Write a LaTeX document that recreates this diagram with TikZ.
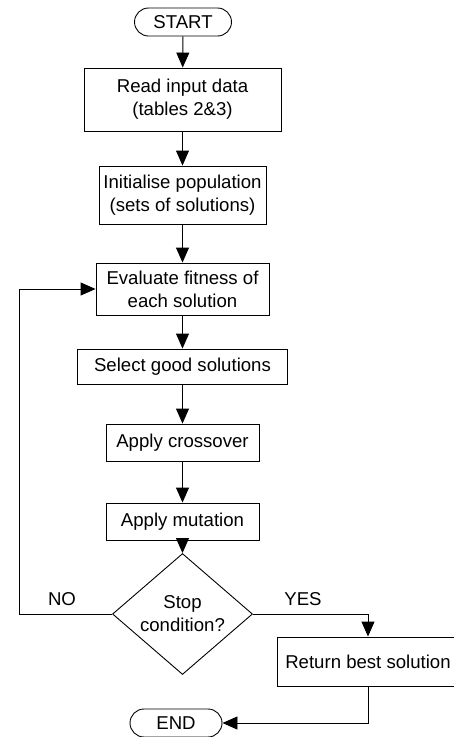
\documentclass[tikz,border=0pt]{standalone}
\usepackage{fontspec}
\setmainfont{Liberation Sans}
\usetikzlibrary{arrows.meta,shapes.geometric,shapes.misc}
\begin{document}
\begin{tikzpicture}[x=1pt,y=-1pt,
  every node/.style={font=\fontsize{18.6pt}{23pt}\selectfont, inner sep=0pt, align=center},
  boxnode/.style={draw, line width=0.9pt, rectangle},
  pill/.style={draw, line width=0.9pt, rounded rectangle, minimum width=97pt, minimum height=28pt},
  dec/.style={draw, line width=0.9pt, diamond, minimum width=140pt, minimum height=88pt},
  flow/.style={line width=0.9pt, -{Triangle[length=15pt,width=13pt]}},
  lbl/.style={}
]
\useasboundingbox (0,0) rectangle (454,737);
\clip (0,0) rectangle (454,737);
\node[pill] (start) at (183,22) {START};
\node[boxnode, minimum width=197pt, minimum height=63pt] (read) at (182.5,99.5) {Read input data\\(tables 2\&3)};
\node[boxnode, minimum width=167pt, minimum height=58pt] (init) at (182.5,195) {Initialise population\\(sets of solutions)};
\node[boxnode, minimum width=173pt, minimum height=52pt] (eval) at (182.5,289) {Evaluate fitness of\\each solution};
\node[boxnode, minimum width=210pt, minimum height=35pt] (select) at (182.5,366.5) {Select good solutions};
\node[boxnode, minimum width=153pt, minimum height=37pt] (cross) at (182.5,442.5) {Apply crossover};
\node[boxnode, minimum width=153pt, minimum height=37pt] (mut) at (182.5,521.5) {Apply mutation};
\node[dec] (stop) at (182.5,614) {Stop\\condition?};
\node[boxnode, minimum width=182pt, minimum height=49pt] (ret) at (368,661.5) {Return best solution};
\node[pill, minimum width=92pt] (end) at (176,723) {END};
\node[lbl] (no) at (62,599) {NO};
\node[lbl] (yes) at (303,599) {YES};
\coordinate (loopx) at (19,614);
\draw[flow] (start) -- (read);
\draw[flow] (read) -- (init);
\draw[flow] (init) -- (eval);
\draw[flow] (eval) -- (select);
\draw[flow] (select) -- (cross);
\draw[flow] (cross) -- (mut);
\draw[flow] (mut) -- (stop);
\draw[flow] (stop.west) -- (loopx) |- (eval.west);
\draw[flow] (stop.east) -| (ret.north);
\draw[flow] (ret.south) |- (end.east);
\end{tikzpicture}
\end{document}
